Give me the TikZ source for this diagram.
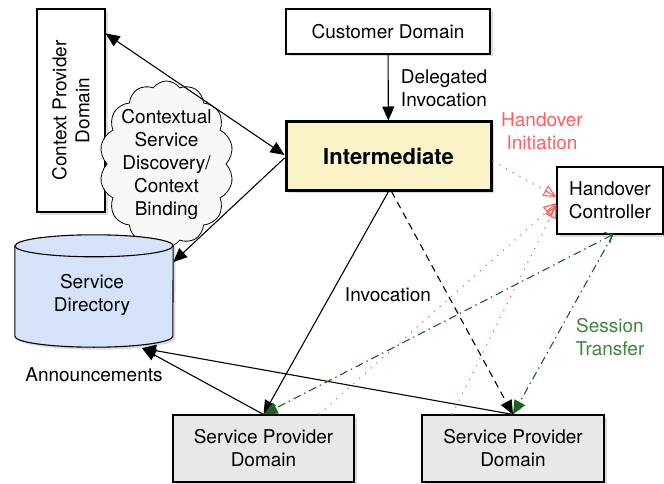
\documentclass[tikz,border=0pt]{standalone}
\usepackage{fontspec}
\setmainfont{TeX Gyre Heros}
\usetikzlibrary{arrows.meta,shapes.symbols,shadows,calc}

\definecolor{interfill}{RGB}{250,243,200}
\definecolor{dirfill}{RGB}{214,226,250}
\definecolor{spdfill}{RGB}{232,232,232}
\definecolor{cloudfill}{RGB}{248,248,248}
\definecolor{handred}{RGB}{255,95,95}
\definecolor{sessgreen}{RGB}{25,100,30}
\definecolor{sesslabel}{RGB}{60,135,60}

\begin{document}
\begin{tikzpicture}[x=1pt,y=-1pt,
  font=\fontsize{19}{23}\selectfont,
  boxshadow/.style={drop shadow={shadow xshift=2.5pt,shadow yshift=-2.5pt,opacity=0.28}},
  box/.style={draw,line width=1.1pt,fill=white,boxshadow,inner sep=0pt,align=center},
  conn/.style={line width=1.1pt,-{Triangle[length=14pt,width=12pt]}},
  redline/.style={handred,line width=1.1pt,dash pattern=on 1.2pt off 6.5pt},
  redtip/.style={handred,line width=1.1pt,-{Triangle[open,length=13pt,width=12pt]}},
  greenconn/.style={sessgreen,line width=1.1pt,dash pattern=on 8pt off 4pt on 1.5pt off 4pt},
  lab/.style={align=center,inner sep=0pt}
]
\useasboundingbox (0,0) rectangle (664,484);

% context provider box
\node[box,minimum width=68,minimum height=203,
      label={[lab,rotate=90]center:Context Provider\\Domain}] (cpd) at (71,110.5) {};

% cloud
\node[cloud,draw,line width=0.8pt,fill=cloudfill,cloud puffs=14,cloud puff arc=110,
      cloud ignores aspect,minimum width=134,minimum height=166,inner sep=0pt,
      label={[lab]center:Contextual\\Service\\Discovery/\\Context\\Binding}]
      (cloud) at (166.5,164) {};

% service directory (cylinder)
\node[minimum width=158,minimum height=112,inner sep=0pt] (sd) at (94,291) {};
\draw[line width=1.1pt,fill=dirfill,boxshadow]
  ($(sd.north west)+(0,11)$) -- ($(sd.south west)+(0,-11)$)
  arc[start angle=180,end angle=360,x radius=79pt,y radius=11pt]
  -- ($(sd.north east)+(0,11)$)
  arc[start angle=0,end angle=180,x radius=79pt,y radius=11pt] -- cycle;
\draw[line width=1.1pt] ($(sd.north west)+(0,11)$)
  arc[start angle=180,end angle=360,x radius=79pt,y radius=11pt];
\node[lab] (sdtext) at (92,295) {Service\\Directory};

% boxes
\node[box,minimum width=204,minimum height=45] (cd) at (388,31.5) {Customer Domain};
\node[box,line width=3pt,fill=interfill,minimum width=205,minimum height=68,
      font=\fontsize{22}{26}\selectfont\bfseries] (inter) at (388.5,156) {Intermediate};
\node[box,minimum width=106,minimum height=67] (hc) at (610,200.5) {Handover\\Controller};
\node[box,fill=spdfill,minimum width=181,minimum height=67] (spd1) at (263.5,448.5) {Service Provider\\Domain};
\node[box,fill=spdfill,minimum width=182,minimum height=67] (spd2) at (513,448.5) {Service Provider\\Domain};

% black connectors
\draw[conn,{Triangle[length=14pt,width=12pt]}-{Triangle[length=14pt,width=12pt]}]
  ([yshift=-25pt]cpd.north east) -- ([yshift=1pt]inter.west);
\draw[conn] ([yshift=-2pt]inter.west) -- (sd.20);
\draw[conn] (cd) -- (inter);
\draw[conn] (inter.south) -- (spd1.north);
\draw[conn,dash pattern=on 7pt off 5pt] ([xshift=3pt]inter.south) -- (spd2.north);
\coordinate (sdin) at ([xshift=48pt,yshift=-1pt]sd.south);
\draw[conn] (spd1.north) -- (sdin);
\draw[conn] (spd2.north) -- (sdin);

% handover initiation (red, dotted lines with solid open tips)
\coordinate (r1a) at ([yshift=-5pt]inter.east);
\coordinate (r1b) at ([yshift=3.5pt]hc.west);
\coordinate (r2a) at ([xshift=55.5pt]spd1.north);
\coordinate (r2b) at ([yshift=-2.5pt]hc.west);
\coordinate (r3a) at ([xshift=-61pt]spd2.north);
\coordinate (r3b) at ([yshift=-4.5pt]hc.west);
\draw[redline] (r1a) -- (r1b);
\draw[redline] (r2a) -- (r2b);
\draw[redline] (r3a) -- (r3b);
\draw[redtip] ($(r1b)!2pt!(r1a)$) -- (r1b);
\draw[redtip] ($(r2b)!2pt!(r2a)$) -- (r2b);
\draw[redtip] ($(r3b)!2pt!(r3a)$) -- (r3b);

% session transfer (green, dash-dot)
\draw[greenconn,{Straight Barb[length=6pt,width=12pt]}-{Triangle[length=14pt,width=12pt]}]
  ([xshift=3pt]hc.south) -- (spd1.north);
\draw[greenconn,-{Triangle[length=14pt,width=12pt]}]
  ([xshift=3pt]hc.south) -- (spd2.north);

% labels
\node[lab] (ldeleg) at (444,88) {Delegated\\Invocation};
\node[lab,text=handred] (lhand) at (542,131) {Handover\\Initiation};
\node[lab] (linv) at (388,295) {Invocation};
\node[lab,text=sesslabel] (lsess) at (610,337) {Session\\Transfer};
\node[lab] (lann) at (94,375) {Announcements};
\end{tikzpicture}
\end{document}
